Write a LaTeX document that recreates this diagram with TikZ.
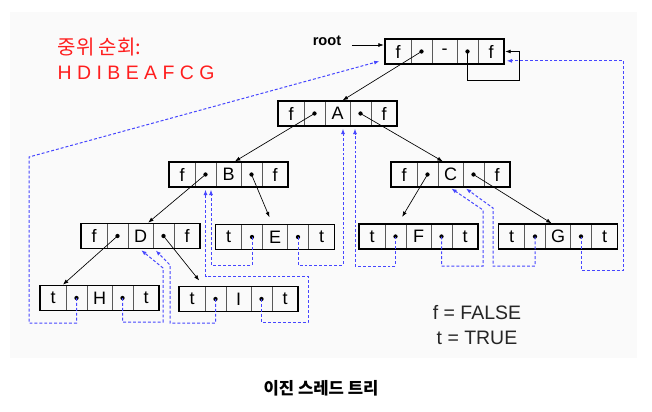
\documentclass[tikz,border=0pt]{standalone}
\usepackage{fontspec}
\setmainfont{Liberation Sans}
\newfontfamily\krfont{Noto Sans CJK KR}
\usetikzlibrary{positioning,arrows.meta}
\definecolor{bggray}{HTML}{FAFAFA}
\definecolor{threadblue}{RGB}{70,70,255}
\definecolor{travred}{RGB}{255,30,30}
\newcommand{\flagw}{19.5pt}
\newcommand{\ptrw}{15.75pt}
\newcommand{\dataw}{18.75pt}
\newcommand{\cellh}{18.75pt}
% one tree node: name, centre of data cell, left tag, data, right tag
\newcommand{\tnode}[5]{%
  \node[datacell] (#1) at (#2) {#4};
  \node[ptrcell, left=0pt of #1] (#1-lp) {};
  \node[flagcell, left=0pt of #1-lp] (#1-lf) {#3};
  \node[ptrcell, right=0pt of #1] (#1-rp) {};
  \node[flagcell, right=0pt of #1-rp] (#1-rf) {#5};
  \fill[black] (#1-lp.center) circle (1.6pt) (#1-rp.center) circle (1.6pt);
  \draw[line width=1.3pt] (#1-lf.north west) rectangle (#1-rf.south east);
}

\begin{document}
\begin{tikzpicture}[x=0.75pt,y=-0.75pt,
    cell/.style={draw=black!65, line width=0.6pt, minimum height=\cellh, inner sep=0pt, outer sep=0pt,
      font=\fontsize{13.5pt}{16pt}\selectfont},
    flagcell/.style={cell, minimum width=\flagw},
    ptrcell/.style={cell, minimum width=\ptrw},
    datacell/.style={cell, minimum width=\dataw},
    link/.style={-{Latex[length=4pt,width=3pt]}, line width=0.5pt, shorten >=1pt},
    thread/.style={threadblue, dash pattern=on 2.2pt off 1.5pt, line width=0.75pt,
      -{Latex[length=4pt,width=3pt]}, shorten >=2pt}]
  \useasboundingbox (0,0) rectangle (652,411);
  \fill[bggray] (10,12) rectangle (637,358);

  %\draw[help lines] (0,0) grid (652,411);
  \tnode{root}{444.5,51.5}{f}{-}{f}
  \tnode{A}{337.5,113.5}{f}{A}{f}
  \tnode{B}{228.5,174.5}{f}{B}{f}
  \tnode{C}{450.5,174.5}{f}{C}{f}
  \tnode{D}{140.5,236}{f}{D}{f}
  \tnode{E}{275,237}{t}{E}{t}
  \tnode{F}{418.5,236.5}{t}{F}{t}
  \tnode{G}{558,236.5}{t}{G}{t}
  \tnode{H}{99.5,298}{t}{H}{t}
  \tnode{I}{238.5,299}{t}{I}{t}

  % child links
  \node[font=\fontsize{11pt}{13pt}\selectfont\bfseries] (rootlbl) at (327,41) {root};
  \draw[link] ([shift={(6,4)}]rootlbl.east) -- ([shift={(0,4)}]rootlbl.east -| root-lf.west);
  \draw[link] (root-lp.center) -- ([xshift=3]A.north);
  \draw[link] (A-lp.center) -- ([xshift=4]B.north);
  \draw[link] (A-rp.center) -- ([xshift=-5]C.north);
  \draw[link] (B-lp.center) -- ([xshift=5]D.north);
  \draw[link] (B-rp.center) -- ([shift={(-5,-6)}]E.north);
  \draw[link] (C-lp.center) -- ([shift={(6,-6)}]F-lp.north);
  \draw[link] (C-rp.center) -- ([xshift=-4]G.north);
  \draw[link] (D-lp.center) -- ([xshift=-3]H-lp.north west);
  \draw[link] (D-rp.center) -- ([shift={(-5,-5)}]I-lp.north west);
  \draw[link] (root-rp.center) |- (519,80) |- (root-rf.east);

  % threads
  \draw[thread] (H-lp.center) |- (29,323) -- (29,157) -- ([shift={(-3,9)}]root-lf.west);
  \draw[thread] (H-rp.center) |- (163,322) -- (163,268) -- ([xshift=-1]D.south);
  \draw[thread] (I-lp.center) |- (170,323) -- (170,265) -- ([xshift=10]D.south);
  \draw[thread] (I-rp.center) |- (308,322) -- (308,276) -| (B-lp.south);
  \draw[thread] (E-lp.center) |- (211,265) -- (211,265 |- B.south);
  \draw[thread] (E-rp.center) |- (343,265) -- (343,265 |- A.south);
  \draw[thread] (F-lp.center) |- (355,266) -- (355,266 |- A.south);
  \draw[thread] (F-rp.center) |- (483,266) -- (483,210) -- ([xshift=-1]C.south);
  \draw[thread] (G-lp.center) |- (493,266) -- (493,208) -- ([xshift=10]C.south);
  \draw[thread] (G-rp.center) |- (623,270) |- ([yshift=-7]root-rf.east);

  % texts
  \node[anchor=west, travred, font=\krfont\fontsize{15pt}{18pt}\selectfont] (travhead) at (53,47) {중위 순회:};
  \node[anchor=west, travred, font=\fontsize{14.6pt}{18pt}\selectfont] (travlist) at (53,73) {H D I B E A F C G};
  \node[text=black!85, font=\fontsize{14.6pt}{18pt}\selectfont] (legf) at (477,313) {f = FALSE};
  \node[text=black!85, font=\fontsize{14.6pt}{18pt}\selectfont] (legt) at (477,338) {t = TRUE};
  \node[font=\krfont\bfseries\fontsize{12.5pt}{15pt}\selectfont] (caption) at (321,388) {이진 스레드 트리};
\end{tikzpicture}
\end{document}
